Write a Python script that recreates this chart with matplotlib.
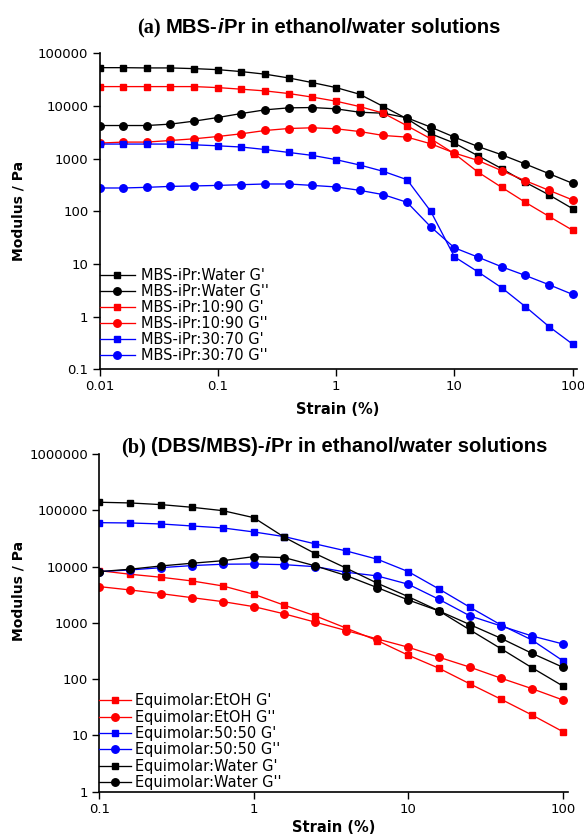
import numpy as np
import matplotlib
matplotlib.use("Agg")
import matplotlib.pyplot as plt
from matplotlib.transforms import IdentityTransform

# ── data: panel (a) MBS-iPr ───────────────────────────────────────────────────
strain_a = [0.01, 0.0158, 0.0251, 0.0398, 0.0631, 0.1, 0.158, 0.251, 0.398, 0.631,
            1, 1.58, 2.51, 3.98, 6.31, 10, 15.8, 25.1, 39.8, 63.1, 100]
water_g1 = [53300, 53300, 52700, 52700, 51100, 48900, 44900, 40100, 34000, 27700,
            22300, 16700, 9750, 5700, 2970, 1970, 1135, 646, 355, 205, 112]
water_g2 = [4250, 4250, 4250, 4520, 5150, 6030, 7180, 8440, 9200, 9330,
            8810, 7600, 7280, 5950, 3960, 2560, 1700, 1185, 790, 518, 339]
r1090_g1 = [23300, 23300, 23300, 23300, 23300, 22300, 20800, 19300, 17200, 14700,
            12300, 9750, 7280, 4200, 2380, 1240, 557, 285, 148, 80, 43.6]
r1090_g2 = [1970, 2060, 2060, 2210, 2380, 2630, 2960, 3420, 3730, 3850,
            3680, 3270, 2750, 2560, 1915, 1277, 925, 590, 381, 250, 164]
r3070_g1 = [1890, 1890, 1890, 1890, 1830, 1750, 1660, 1490, 1310, 1150,
            955, 757, 573, 398, 100, 13.7, 7.1, 3.54, 1.55, 0.647, 0.30]
r3070_g2 = [277, 277, 285, 297, 303, 310, 320, 330, 330, 310,
            290, 250, 207, 148, 50.7, 20.3, 13.5, 8.85, 6.05, 4.04, 2.64]

# ── data: panel (b) (DBS/MBS)-iPr ─────────────────────────────────────────────
strain_b = [0.1, 0.158, 0.251, 0.398, 0.631, 1, 1.58, 2.51, 3.98, 6.31,
            10, 15.8, 25.1, 39.8, 63.1, 100]
etoh_g1 = [8460, 7300, 6450, 5550, 4520, 3220, 2050, 1327, 802, 483,
           266, 156, 82.2, 44, 23.1, 11.7]
etoh_g2 = [4400, 3840, 3300, 2800, 2380, 1940, 1440, 1025, 727, 517,
           369, 245, 163, 104, 67.8, 42.7]
r5050_g1 = [60200, 59500, 57100, 52600, 48500, 41200, 34000, 25200, 18900, 13500,
            8130, 4000, 1890, 918, 497, 213]
r5050_g2 = [8130, 8700, 9550, 10400, 11000, 11100, 10800, 9950, 7920, 6810,
            4850, 2620, 1327, 881, 585, 422]
eqw_g1 = [138700, 135000, 126000, 113000, 98400, 73900, 33100, 16900, 9330, 5050,
          2920, 1630, 748, 348, 160, 75.7]
eqw_g2 = [8130, 8960, 10250, 11450, 12700, 15000, 14400, 10250, 6890, 4220,
          2550, 1630, 929, 532, 288, 163]

labels_a = ["MBS-iPr:Water G'", "MBS-iPr:Water G''", "MBS-iPr:10:90 G'",
            "MBS-iPr:10:90 G''", "MBS-iPr:30:70 G'", "MBS-iPr:30:70 G''"]
labels_b = ["Equimolar:EtOH G'", "Equimolar:EtOH G''", "Equimolar:50:50 G'",
            "Equimolar:50:50 G''", "Equimolar:Water G'", "Equimolar:Water G''"]

SANS = "DejaVu Sans"
plt.rcParams["font.family"] = SANS

fig = plt.figure(figsize=(5.84, 8.35), dpi=100)
ax1 = fig.add_axes([0.1704, 0.5577, 0.817, 0.3785])
ax2 = fig.add_axes([0.170, 0.0519, 0.803, 0.4044])


def draw(ax, x, series, labels, colors):
    for (y, mk), lab, c in zip(series, labels, colors):
        ax.plot(x, y, "-", marker=mk, color=c, lw=0.95,
                ms=4.8 if mk == "s" else 5.4, label=lab)


draw(ax1, strain_a,
     [(water_g1, "s"), (water_g2, "o"), (r1090_g1, "s"),
      (r1090_g2, "o"), (r3070_g1, "s"), (r3070_g2, "o")],
     labels_a, ["black", "black", "red", "red", "blue", "blue"])
draw(ax2, strain_b,
     [(etoh_g1, "s"), (etoh_g2, "o"), (r5050_g1, "s"),
      (r5050_g2, "o"), (eqw_g1, "s"), (eqw_g2, "o")],
     labels_b, ["red", "red", "blue", "blue", "black", "black"])

yt_a = [0.1, 1, 10, 100, 1000, 10000, 100000]
yt_b = [1, 10, 100, 1000, 10000, 100000, 1000000]
xt_a = [0.01, 0.1, 1, 10, 100]
xt_b = [0.1, 1, 10, 100]

for ax, xt, yt, xl, yl in [(ax1, xt_a, yt_a, (0.01, 108), (0.1, 1e5)),
                           (ax2, xt_b, yt_b, (0.1, 108.6), (1, 1e6))]:
    ax.set_xscale("log")
    ax.set_yscale("log")
    ax.set_xlim(*xl)
    ax.set_ylim(*yl)
    ax.set_xticks(xt)
    ax.set_xticklabels([f"{v:g}" for v in xt])
    ax.set_yticks(yt)
    ax.set_yticklabels([f"{v:g}" if v < 1e5 else str(int(v)) for v in yt])
    ax.minorticks_off()
    ax.tick_params(direction="out", length=5, width=1.0, labelsize=9.5, pad=3)
    for s in ["top", "right"]:
        ax.spines[s].set_visible(False)
    for s in ["left", "bottom"]:
        ax.spines[s].set_linewidth(1.2)

ax1.legend(loc="lower left", bbox_to_anchor=(0, 0.02), frameon=False, fontsize=10.5,
           handlelength=2.4, handletextpad=0.45, labelspacing=0.07,
           borderaxespad=0, borderpad=0)
ax2.legend(loc="lower left", bbox_to_anchor=(0, 0.005), frameon=False, fontsize=10.5,
           handlelength=2.2, handletextpad=0.25, labelspacing=0.09,
           borderaxespad=0, borderpad=0)

H = 835
fig.text(19 / 584, 1 - 211 / H, "Modulus / Pa", rotation=90, ha="center",
         va="center", fontsize=10, fontweight="bold")
fig.text(19 / 584, 1 - 591 / H, "Modulus / Pa", rotation=90, ha="center",
         va="center", fontsize=10, fontweight="bold")
fig.text(338 / 584, 1 - 410 / H, "Strain (%)", ha="center", va="center",
         fontsize=10.5, fontweight="bold")
fig.text(334 / 584, 1 - 827 / H, "Strain (%)", ha="center", va="center",
         fontsize=10.5, fontweight="bold")


# ── titles made of mixed-font pieces ──────────────────────────────────────────
def title(parts, xc, y_base, size=14.6):
    r = fig.canvas.get_renderer()
    texts, x = [], 0.0
    for s, fam, style, gap in parts:
        x += gap
        t = fig.text(x, H - y_base, s, transform=IdentityTransform(), fontsize=size,
                     fontweight="bold", fontstyle=style, family=fam, va="baseline")
        texts.append(t)
        x = t.get_window_extent(r).x1
    shift = xc - x / 2
    for t in texts:
        px, py = t.get_position()
        t.set_position((px + shift, py))


title([("(a)", "Liberation Serif", "normal", 0),
       ("MBS-", "Liberation Sans", "normal", 5),
       ("i", "Liberation Sans", "italic", 0),
       ("Pr in ethanol/water solutions", "Liberation Sans", "normal", 0.5)],
      318.5, 33)
title([("(b)", "Liberation Serif", "normal", 0),
       ("(DBS/MBS)-", "Liberation Sans", "normal", 5),
       ("i", "Liberation Sans", "italic", 0),
       ("Pr in ethanol/water solutions", "Liberation Sans", "normal", 0.5)],
      334.5, 452)

fig.savefig("out.png", dpi=100)
